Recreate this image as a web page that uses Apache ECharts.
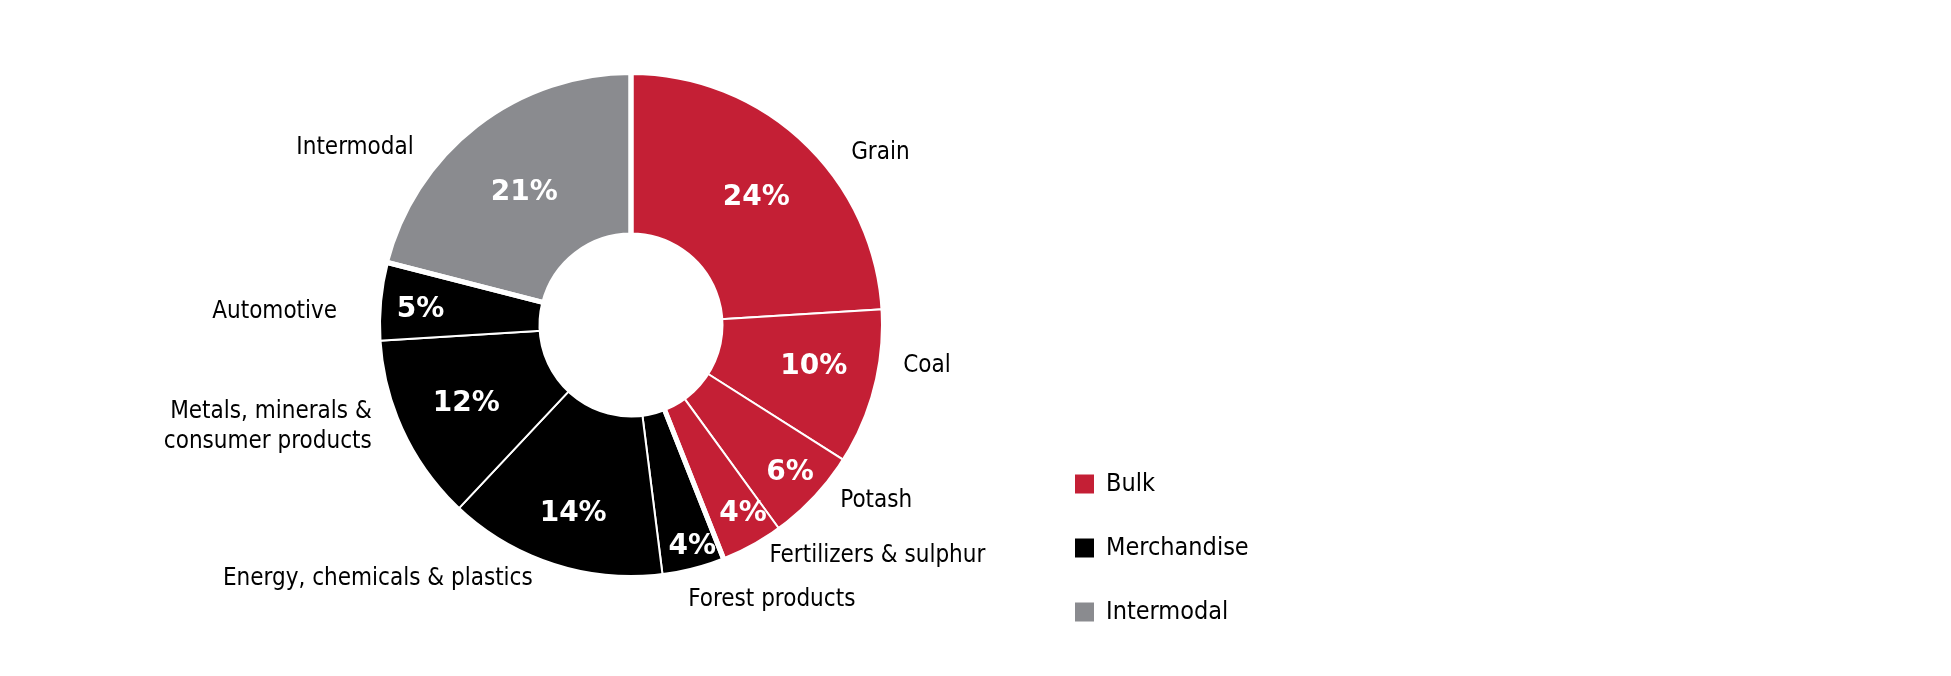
<!DOCTYPE html>
<html>
<head>
<meta charset="utf-8">
<script src="https://cdn.jsdelivr.net/npm/echarts@6/dist/echarts.min.js"></script>
<style>
html,body{margin:0;padding:0;background:#fff;}
#chart{width:1951px;height:676px;}
</style>
</head>
<body>
<div id="chart"></div>
<script>
// ---- data ----
const categories = ['Grain', 'Coal', 'Potash', 'Fertilizers & sulphur', 'Forest products',
  'Energy, chemicals & plastics', 'Metals, minerals &\nconsumer products', 'Automotive', 'Intermodal'];
const shares = [24, 10, 6, 4, 4, 14, 12, 5, 21];
const groupOf = ['Bulk', 'Bulk', 'Bulk', 'Bulk', 'Merchandise', 'Merchandise', 'Merchandise', 'Merchandise', 'Intermodal'];
const groups = ['Bulk', 'Merchandise', 'Intermodal'];

// ---- styling / layout ----
const groupColors = { Bulk: '#C41F35', Merchandise: '#000000', Intermodal: '#8A8B8F' };
const center = [631, 325];
const innerShift = [[6, 0], [14, -2], [32, 28], [28, 36], [18, 53], [-4, 23], [-7, 5], [-37, 1], [0, 5]];
const outerShift = [[49, 10], [30, -21], [27, 5], [18, 12], [-5, 33], [-21, 16], [-33, -5], [-45, 10], [-64, 20]];
const labelFont = "'Liberation Sans Narrow', 'DejaVu Sans Condensed', sans-serif";

const mainData = categories.map((c, i) => ({
  name: c, value: shares[i], itemStyle: { color: groupColors[groupOf[i]] }
}));
const groupData = groups.map(g => ({
  name: g,
  value: shares.reduce((s, v, i) => s + (groupOf[i] === g ? v : 0), 0)
}));

const chart = echarts.init(document.getElementById('chart'), null, { renderer: 'canvas' });
chart.setOption({
  animation: false,
  backgroundColor: '#ffffff',
  legend: {
    orient: 'vertical',
    left: 1068,
    top: 466,
    itemWidth: 21,
    itemHeight: 21,
    itemGap: 38,
    icon: 'rect',
    selectedMode: false,
    textStyle: { fontFamily: labelFont, fontSize: 25, lineHeight: 26, color: '#000', padding: [0, 0, 0, 6] },
    data: groups.map(g => ({ name: g, itemStyle: { color: groupColors[g] } }))
  },
  series: [
    {
      type: 'pie',
      name: 'shares',
      center: center,
      radius: [90, 252.5],
      startAngle: 90,
      clockwise: true,
      avoidLabelOverlap: false,
      silent: true,
      itemStyle: { borderColor: '#ffffff', borderWidth: 2 },
      label: {
        show: true, position: 'inside', formatter: '{c}%',
        color: '#ffffff', fontFamily: "'DejaVu Sans', sans-serif", fontWeight: 'bold', fontSize: 28
      },
      labelLayout: p => ({ dx: innerShift[p.dataIndex][0], dy: innerShift[p.dataIndex][1] }),
      labelLine: { show: false },
      data: mainData,
      z: 2
    },
    {
      type: 'pie',
      name: 'groups',
      center: center,
      radius: [90, 252.5],
      startAngle: 90,
      clockwise: true,
      silent: true,
      itemStyle: { color: 'rgba(0,0,0,0)', borderColor: '#ffffff', borderWidth: 5 },
      label: { show: false },
      labelLine: { show: false },
      data: groupData,
      z: 3
    },
    {
      type: 'pie',
      name: 'names',
      center: center,
      radius: [90, 250],
      startAngle: 90,
      clockwise: true,
      silent: true,
      avoidLabelOverlap: false,
      itemStyle: { color: 'rgba(0,0,0,0)' },
      label: {
        show: true, position: 'outside', alignTo: 'none', distanceToLabelLine: 0,
        formatter: '{b}', color: '#000', fontFamily: labelFont, fontSize: 24, lineHeight: 30
      },
      labelLine: { show: false, length: 0, length2: 0 },
      labelLayout: p => ({ dx: outerShift[p.dataIndex][0], dy: outerShift[p.dataIndex][1] }),
      data: categories.map((c, i) => ({ name: c, value: shares[i] })),
      z: 4
    }
  ]
});
</script>
</body>
</html>
